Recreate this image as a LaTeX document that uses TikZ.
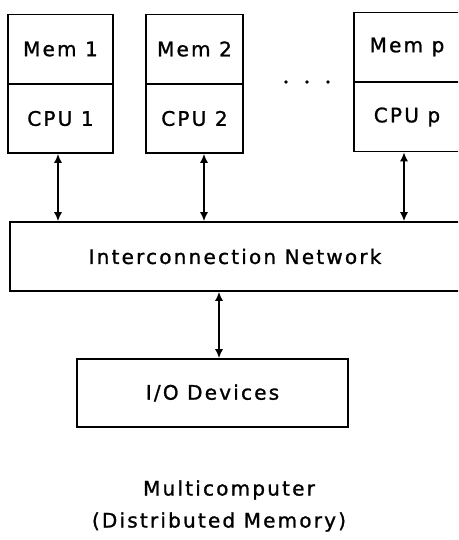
\documentclass[tikz,border=0pt]{standalone}
\usepackage{fontspec}
\setmainfont[LetterSpace=11,FakeBold=1.2]{DejaVu Sans}
\usetikzlibrary{arrows.meta}
\begin{document}
\begin{tikzpicture}[x=1pt,y=-1pt,
  unit/.style={draw,line width=1.7pt,minimum width=105pt,minimum height=69pt,inner sep=0pt,font=\fontsize{20}{22}\selectfont},
  bigbox/.style={draw,line width=1.7pt,inner sep=0pt,font=\fontsize{20}{22}\selectfont},
  tip/.tip={Latex[length=9pt,width=8pt]},
  link/.style={line width=1.3pt,tip-tip},
  caption/.style={font=\fontsize{20}{22}\selectfont,inner sep=0pt}]
\clip (0,0) rectangle (458,540);

% processing elements: memory above CPU
\node[unit] (mem1) at (60.5,49) {Mem 1};
\node[unit] (cpu1) at (60.5,118.5) {CPU 1};
\node[unit,minimum width=97pt] (mem2) at (194.5,49) {Mem 2};
\node[unit,minimum width=97pt] (cpu2) at (194.5,118.5) {CPU 2};
\node[unit,minimum width=106pt] (memp) at (407,47) {Mem p};
\node[unit,minimum width=106pt] (cpup) at (407,117) {CPU p};

% ellipsis between the second and the last element
\fill (286,82) circle (1.8pt) (307,82) circle (1.8pt) (328,82) circle (1.8pt);

% shared network and I/O
\node[bigbox,minimum width=450pt,minimum height=69pt] (net) at (235,256.5) {Interconnection Network};
\node[bigbox,minimum width=271pt,minimum height=68pt] (io) at (212.5,393) {I/O Devices};

% bidirectional links
\draw[link] ([xshift=-2.5pt]cpu1.south) -- ([xshift=-2.5pt]cpu1.south |- net.north);
\draw[link] ([xshift=9.5pt]cpu2.south) -- ([xshift=9.5pt]cpu2.south |- net.north);
\draw[link] ([xshift=-3pt]cpup.south) -- ([xshift=-3pt]cpup.south |- net.north);
\draw[link] ([xshift=6.5pt]io.north |- net.south) -- ([xshift=6.5pt]io.north);

% caption
\node[caption] (cap1) at (229,490) {Multicomputer};
\node[caption] (cap2) at (219,522) {(Distributed Memory)};
\end{tikzpicture}
\end{document}
